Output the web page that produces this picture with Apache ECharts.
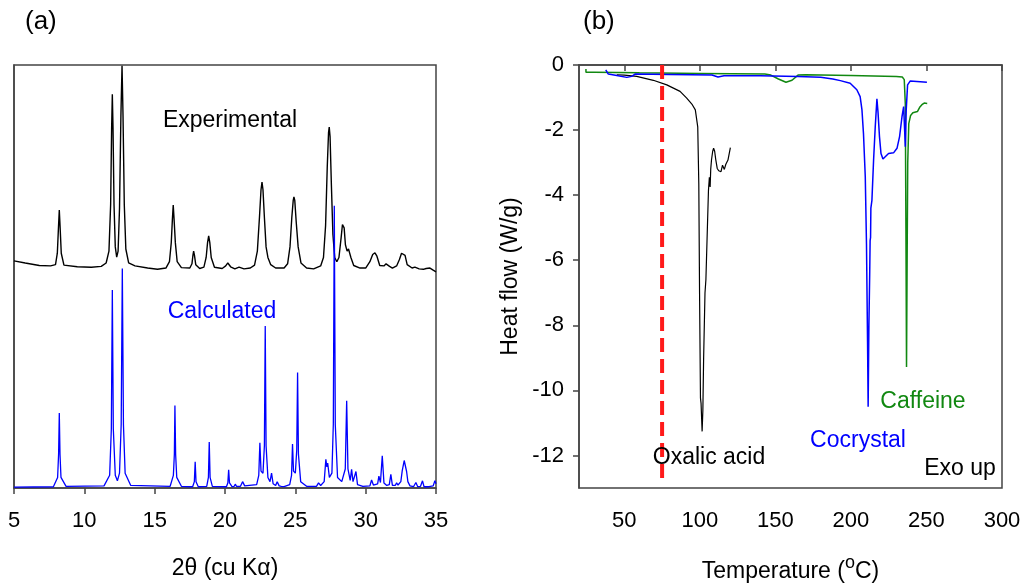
<!DOCTYPE html>
<html>
<head>
<meta charset="utf-8">
<script src="https://cdn.jsdelivr.net/npm/echarts@6/dist/echarts.min.js"></script>
<style>
html,body{margin:0;padding:0;background:#fff;}
#chart{width:1024px;height:586px;}
</style>
</head>
<body>
<div id="chart"></div>
<script>
// ---------- Panel (a): PXRD (2θ, arbitrary intensity) ----------
const experimental = [
[5,53.7],[5.8,53.2],[6.8,52.6],[7.6,52.5],[7.95,52.8],[8.08,55.5],[8.16,61.5],[8.22,65.7],[8.28,61.5],[8.36,55.5],[8.55,52.7],
[9.5,52.3],[10.5,52.2],[11.2,52.4],[11.55,53.2],[11.75,56],[11.87,67],[11.94,85],[11.99,93.1],[12.04,85],[12.11,67],[12.2,57],
[12.3,54.6],[12.4,56],[12.5,66],[12.6,88],[12.68,99.8],[12.75,88],[12.84,67],[12.95,56.5],[13.15,53.2],[13.6,52.5],[14.5,52.0],
[15.2,51.7],[15.8,52.0],[16.05,53.5],[16.18,58],[16.26,63.5],[16.32,66.9],[16.38,63.5],[16.47,58],[16.6,53.5],[16.9,52.1],
[17.5,52.0],[17.65,53],[17.72,55],[17.77,56.0],[17.83,55],[17.92,52.8],[18.2,51.9],[18.5,52.2],[18.66,54.5],[18.76,58],
[18.84,59.6],[18.92,58],[19.02,54.5],[19.25,52.2],[19.8,51.9],[20.05,52.5],[20.2,53.2],[20.4,52.3],[20.7,51.8],[21.0,52.2],
[21.13,52.3],[21.35,51.8],[21.8,52.0],[22.1,52.7],[22.3,56],[22.45,64],[22.56,70.5],[22.63,72.3],[22.7,70.5],[22.8,64],
[22.92,57],[23.05,54.5],[23.15,54.1],[23.25,52.8],[23.6,52.0],[24.2,52.0],[24.45,53],[24.62,57],[24.75,64],[24.85,68],
[24.9,68.8],[24.96,68],[25.06,63],[25.2,57],[25.4,53.2],[25.8,52.0],[26.3,51.8],[26.8,52.5],[27.0,54.5],[27.15,62],
[27.27,76],[27.36,84],[27.41,85.3],[27.47,83],[27.56,72],[27.67,60],[27.8,54.5],[27.95,53.5],[28.1,54.5],[28.25,59],
[28.35,62.3],[28.4,62.6],[28.47,61.5],[28.56,57.5],[28.68,56],[28.78,56.5],[28.83,56.5],[28.95,54.5],[29.15,52.6],
[29.6,52.0],[30.0,52.0],[30.3,53.5],[30.5,55.2],[30.66,55.6],[30.8,54.8],[31.0,52.6],[31.3,52.5],[31.45,53.0],[31.56,53.2],
[31.7,52.4],[31.9,52.0],[32.2,52.5],[32.4,54.0],[32.55,55.5],[32.67,55.8],[32.8,55],[32.95,52.8],[33.3,52.0],[33.5,52.2],
[33.62,52.4],[33.8,51.8],[34.1,51.7],[34.3,51.9],[34.57,52.0],[34.8,51.5],[35,51.1]
];
const calculated = [
[5,0.2],[7.8,0.3],[8.1,2.5],[8.17,8],[8.22,17.7],[8.27,8],[8.34,2.5],[8.7,0.4],
[11.4,0.5],[11.8,3],[11.92,14],[11.99,46.8],[12.06,14],[12.2,3],[12.35,1.7],[12.5,3.5],[12.62,15],[12.7,51.9],[12.78,15],[12.9,3.5],[13.3,0.6],
[16.1,0.4],[16.33,3],[16.4,8],[16.44,19.5],[16.49,8],[16.57,2.5],[16.9,0.4],
[17.7,0.3],[17.82,1.5],[17.88,6.2],[17.94,1.5],[18.1,0.3],
[18.7,0.4],[18.82,2.5],[18.88,10.9],[18.94,2.5],[19.1,0.4],
[20.1,0.3],[20.2,1.2],[20.26,4.3],[20.32,1.2],[20.5,0.3],
[20.65,0.4],[20.73,0.9],[20.82,0.4],[21.1,0.4],[21.25,1.5],[21.4,0.5],
[22.25,0.8],[22.4,3],[22.48,10.7],[22.56,4],[22.7,3.5],[22.8,10],[22.86,38.3],[22.92,10],[23.05,2.5],[23.2,1.5],[23.31,3.5],
[23.42,1],[23.6,0.6],[23.71,1.5],[23.85,0.5],[24.0,0.4],[24.1,0.7],[24.2,0.3],
[24.6,0.8],[24.73,3],[24.8,10.4],[24.87,4],[25.0,3.5],[25.1,9],[25.16,27.3],[25.22,8],[25.38,1.5],[25.8,0.4],
[26.5,0.4],[26.65,1.2],[26.8,0.6],[27.05,1.5],[27.17,6.8],[27.24,5],[27.3,5.9],[27.42,2.5],[27.6,3.5],[27.7,15],[27.77,66.7],
[27.84,15],[28.0,2.5],[28.3,1.5],[28.55,4.5],[28.65,20.6],[28.74,4.5],[28.9,1.8],[29.0,4.4],[29.1,1.5],[29.2,1.3],[29.31,3.9],
[29.42,0.8],[29.8,0.4],[30.3,0.5],[30.42,1.9],[30.55,0.7],[30.85,1.0],[30.94,2.8],[31.05,1.3],[31.18,7.6],[31.3,1.2],
[31.5,0.6],[31.68,0.8],[31.79,3.2],[31.9,0.6],[32.1,0.6],[32.2,1.2],[32.3,0.7],[32.5,1.5],[32.6,4.1],[32.74,6.5],[32.91,3.9],
[33.0,1.5],[33.15,0.5],[33.4,0.3],[33.57,1.3],[33.7,0.3],[33.9,0.4],[34.04,1.7],[34.15,0.3],[34.5,0.3],[34.8,0.5],[34.92,1.7],[35,1.0]
];
const thetaTicks = [5, 10, 15, 20, 25, 30, 35];

// ---------- Panel (b): DSC (Temperature °C, Heat flow W/g) ----------
const oxalicAcid = [
[45,-0.3],[50,-0.31],[58.2,-0.35],[69.2,-0.47],[78.1,-0.61],[86.9,-0.81],[91.3,-1.02],[95,-1.22],[97,-1.38],[98.6,-1.9],
[99.3,-3.64],[99.8,-7],[100.4,-10.23],[100.8,-10.4],[101.5,-11.26],[102,-10.6],[102.5,-9],[103.4,-7],[104,-6.6],[105,-4.98],
[105.7,-3.85],[106.3,-3.45],[106.8,-3.75],[107.2,-3.2],[107.7,-2.92],[108.5,-2.65],[109.1,-2.56],[109.8,-2.65],[110.5,-2.9],
[111.5,-3.18],[112.5,-3.25],[114,-3.28],[115,-3.08],[116.2,-3.21],[117.2,-3.05],[118.6,-2.92],[120.2,-2.54]
];
const cocrystal = [
[37.7,-0.15],[39.4,-0.28],[45,-0.32],[51.6,-0.38],[54.9,-0.35],[57.1,-0.28],[80,-0.29],[108,-0.31],[112,-0.37],[116,-0.33],
[140,-0.33],[165,-0.35],[180,-0.38],[188,-0.43],[193,-0.48],[199.5,-0.56],[203.9,-0.76],[206.1,-0.97],[207.3,-1.38],
[208.3,-2.1],[209.5,-3.44],[210.3,-5.5],[211,-8.5],[211.4,-10.5],[211.9,-8],[212.4,-6.5],[212.7,-5.4],[213.0,-5.3],
[213.2,-4.4],[213.9,-4.16],[215,-2.92],[216.1,-1.9],[217.2,-1.04],[217.9,-1.43],[218.9,-2.2],[219.9,-2.72],[221.2,-2.89],
[222.7,-2.82],[224.9,-2.72],[228.2,-2.7],[230.5,-2.56],[232.2,-2.2],[233.8,-1.59],[234.9,-1.28],[235.6,-1.23],[236,-2.51],
[236.6,-1.38],[237.5,-0.61],[239.3,-0.49],[250.3,-0.53]
];
const caffeine = [
[24.6,-0.12],[24.6,-0.22],[30,-0.22],[60,-0.24],[100,-0.26],[143,-0.28],[147,-0.31],[152,-0.43],[157,-0.53],[161,-0.47],
[165,-0.31],[170,-0.3],[200,-0.32],[230,-0.35],[234,-0.37],[235.3,-0.45],[236,-1.2],[236.4,-5],[236.8,-9.28],[237.2,-6],
[237.6,-3],[238.3,-1.8],[239.5,-1.55],[241,-1.47],[244,-1.43],[245.5,-1.3],[247,-1.22],[248.5,-1.17],[250.5,-1.18]
];
const referenceLine = [[75, 0], [75, -12.85]];
const tempTicks = [50, 100, 150, 200, 250, 300];
const heatTicks = [0, -2, -4, -6, -8, -10, -12];

const FONT = '"Liberation Sans", Arial, Helvetica, sans-serif';
const AX = '#444';

const chart = echarts.init(document.getElementById('chart'), null, {renderer: 'canvas'});

const option = {
  animation: false,
  backgroundColor: '#fff',
  textStyle: {fontFamily: FONT, color: '#000'},
  grid: [
    {left: 14, top: 65, right: 588, bottom: 98, show: true, borderColor: AX, borderWidth: 1.5, containLabel: false, outerBoundsMode: 'none'},
    {left: 579, top: 65, right: 22, bottom: 98, show: true, borderColor: AX, borderWidth: 1.5, containLabel: false, outerBoundsMode: 'none'}
  ],
  xAxis: [
    {
      gridIndex: 0, type: 'value', min: 5, max: 35, interval: 5,
      name: '2θ (cu Kα)', nameLocation: 'middle', nameGap: 69,
      nameTextStyle: {fontSize: 23, color: '#000', fontFamily: FONT},
      axisLine: {show: true, lineStyle: {color: AX, width: 1.5}},
      axisTick: {show: true, inside: false, length: 6, lineStyle: {color: AX, width: 1.5}},
      axisLabel: {fontSize: 22, color: '#000', margin: 22, fontFamily: FONT,
                  customValues: thetaTicks},
      splitLine: {show: false}
    },
    {
      gridIndex: 1, type: 'value', min: 20, max: 300,
      name: '{m|Temperature (}{s|o}{m|C)}', nameLocation: 'middle', nameGap: 66,
      nameTextStyle: {
        fontSize: 23, color: '#000', fontFamily: FONT,
        rich: {
          m: {fontSize: 23, lineHeight: 36, fontFamily: FONT, color: '#000'},
          s: {fontSize: 18, lineHeight: 18, verticalAlign: 'top', fontFamily: FONT, color: '#000'}
        }
      },
      axisLine: {show: true, lineStyle: {color: AX, width: 1.5}},
      axisTick: {show: true, inside: false, length: 6, lineStyle: {color: AX, width: 1.5}, customValues: tempTicks},
      axisLabel: {fontSize: 22, color: '#000', margin: 22, fontFamily: FONT, customValues: tempTicks},
      splitLine: {show: false}
    }
  ],
  yAxis: [
    {
      gridIndex: 0, type: 'value', min: 0, max: 100,
      axisLine: {show: true, lineStyle: {color: AX, width: 1.5}},
      axisTick: {show: false}, axisLabel: {show: false}, splitLine: {show: false}
    },
    {
      gridIndex: 1, type: 'value', min: -13, max: 0,
      name: 'Heat flow (W/g)', nameLocation: 'middle', nameGap: 57, nameRotate: 90,
      nameTextStyle: {fontSize: 23, color: '#000', fontFamily: FONT},
      axisLine: {show: true, lineStyle: {color: AX, width: 1.5}},
      axisTick: {show: true, inside: false, length: 6, lineStyle: {color: AX, width: 1.5}, customValues: heatTicks},
      axisLabel: {fontSize: 22, color: '#000', margin: 15, fontFamily: FONT, customValues: heatTicks},
      splitLine: {show: false}
    }
  ],
  series: [
    {name: 'Experimental', type: 'line', xAxisIndex: 0, yAxisIndex: 0, data: experimental,
     showSymbol: false, symbol: 'none', lineStyle: {color: '#000', width: 1.4}, z: 3},
    {name: 'Calculated', type: 'line', xAxisIndex: 0, yAxisIndex: 0, data: calculated,
     showSymbol: false, symbol: 'none', lineStyle: {color: '#0000ff', width: 1.3}, z: 4},
    {name: 'Reference', type: 'line', xAxisIndex: 1, yAxisIndex: 1, data: referenceLine,
     showSymbol: false, symbol: 'none', lineStyle: {color: '#ff1a1a', width: 4, type: [14, 7]}, z: 5},
    {name: 'Oxalic acid', type: 'line', xAxisIndex: 1, yAxisIndex: 1, data: oxalicAcid,
     showSymbol: false, symbol: 'none', lineStyle: {color: '#000', width: 1.2}, z: 3},
    {name: 'Caffeine', type: 'line', xAxisIndex: 1, yAxisIndex: 1, data: caffeine,
     showSymbol: false, symbol: 'none', lineStyle: {color: '#118811', width: 1.5}, z: 3},
    {name: 'Cocrystal', type: 'line', xAxisIndex: 1, yAxisIndex: 1, data: cocrystal,
     showSymbol: false, symbol: 'none', lineStyle: {color: '#0000ff', width: 1.5}, z: 4}
  ],
  graphic: [
    {type: 'text', left: 25, top: 9, style: {text: '(a)', fontSize: 26, fontFamily: FONT, fill: '#000'}},
    {type: 'text', left: 583, top: 9, style: {text: '(b)', fontSize: 26, fontFamily: FONT, fill: '#000'}},
    {type: 'text', x: 230, y: 121, style: {text: 'Experimental', fontSize: 23, fontFamily: FONT, fill: '#000', align: 'center', verticalAlign: 'middle'}},
    {type: 'text', x: 222, y: 312, style: {text: 'Calculated', fontSize: 23, fontFamily: FONT, fill: '#0000ff', align: 'center', verticalAlign: 'middle'}},
    {type: 'text', x: 709, y: 458, style: {text: 'Oxalic acid', fontSize: 23, fontFamily: FONT, fill: '#000', align: 'center', verticalAlign: 'middle'}, z: 10},
    {type: 'text', x: 858, y: 441, style: {text: 'Cocrystal', fontSize: 23, fontFamily: FONT, fill: '#0000ff', align: 'center', verticalAlign: 'middle'}},
    {type: 'text', x: 923, y: 402, style: {text: 'Caffeine', fontSize: 23, fontFamily: FONT, fill: '#118811', align: 'center', verticalAlign: 'middle'}},
    {type: 'text', x: 960, y: 469, style: {text: 'Exo up', fontSize: 23, fontFamily: FONT, fill: '#000', align: 'center', verticalAlign: 'middle'}}
  ]
};
chart.setOption(option);
</script>
</body>
</html>
